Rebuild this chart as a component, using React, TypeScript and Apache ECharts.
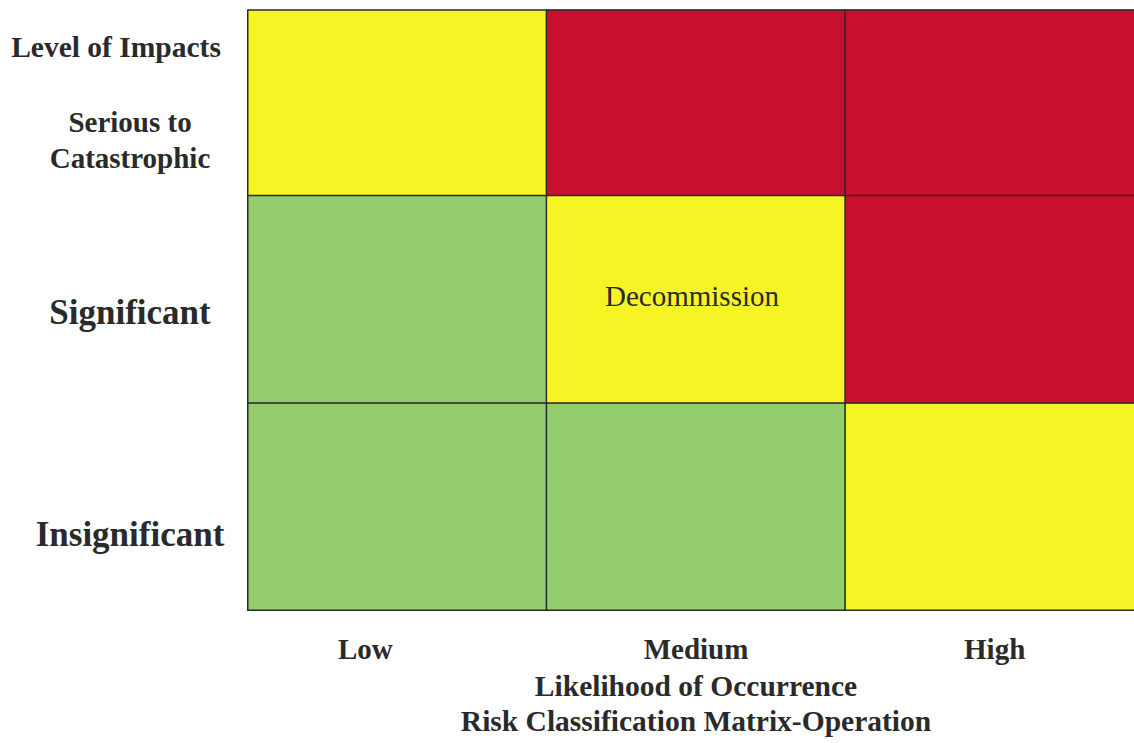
import React, { useEffect, useRef } from "react";
import * as echarts from "echarts";

// Categories
const likelihoodLevels = ["Low", "Medium", "High"];
const impactLevels = ["Insignificant", "Significant", "Serious to Catastrophic"];

// Risk class per cell: [likelihoodIndex, impactIndex, riskClass] (1 = low, 2 = medium, 3 = high)
const riskCells: [number, number, number][] = [
  [0, 0, 1], [1, 0, 1], [2, 0, 2],
  [0, 1, 1], [1, 1, 2], [2, 1, 3],
  [0, 2, 2], [1, 2, 3], [2, 2, 3],
];

// Notes written inside cells: [likelihoodIndex, impactIndex, text]
const cellNotes: [number, number, string][] = [[1, 1, "Decommission"]];

const yAxisHeader = "Level of Impacts";
const xAxisTitle = "Likelihood of Occurrence";
const chartTitle = "Risk Classification Matrix-Operation";

const riskColors = { 1: "#92cc6c", 2: "#f6f424", 3: "#c7102d" } as Record<number, string>;

const FONT = '"Liberation Serif", "Times New Roman", serif';
const TXT = "#2a2a2a";

// the chart canvas is larger than the page so the grid may run past its edges
const OFF_Y = 40;

export default function App() {
  const ref = useRef<HTMLDivElement>(null);

  useEffect(() => {
    if (!ref.current) return;
    const chart = echarts.init(ref.current, null, { renderer: "svg" });

    const data = riskCells.map(([x, y, v]) => {
      const note = cellNotes.find((n) => n[0] === x && n[1] === y);
      return { value: [x, y, v], name: note ? note[2] : "" };
    });

    chart.setOption({
      animation: false,
      backgroundColor: "#ffffff",
      grid: { left: 248, top: OFF_Y - 12, width: 896, bottom: 130, containLabel: false },
      visualMap: {
        type: "piecewise",
        show: false,
        dimension: 2,
        pieces: [
          { value: 1, color: riskColors[1] },
          { value: 2, color: riskColors[2] },
          { value: 3, color: riskColors[3] },
        ],
      },
      xAxis: {
        type: "category",
        data: likelihoodLevels,
        axisLine: { show: false },
        axisTick: { show: false },
        splitLine: { show: false },
        splitArea: { show: false },
        axisLabel: {
          margin: 24,
          fontFamily: FONT,
          fontWeight: "bold",
          fontSize: 29,
          color: TXT,
          formatter: (v: string) => (v === "Low" ? "{low|" + v + "}" : "{n|" + v + "}"),
          rich: {
            low: { fontFamily: FONT, fontWeight: "bold", fontSize: 29, color: TXT, padding: [0, 64, 0, 0] },
            n: { fontFamily: FONT, fontWeight: "bold", fontSize: 29, color: TXT },
          },
        },
        name: xAxisTitle + "\n" + chartTitle,
        nameLocation: "middle",
        nameGap: 58,
        nameTextStyle: {
          fontFamily: FONT,
          fontWeight: "bold",
          fontSize: 29.5,
          color: TXT,
          lineHeight: 35,
        },
      },
      yAxis: {
        type: "category",
        data: impactLevels,
        axisLine: { show: false },
        axisTick: { show: false },
        splitLine: { show: false },
        splitArea: { show: false },
        axisLabel: {
          margin: 118,
          align: "center",
          fontFamily: FONT,
          fontWeight: "bold",
          color: TXT,
          formatter: (v: string) => {
            if (v === "Insignificant") return "{ins|" + v + "}";
            if (v === "Significant") return "{sig|" + v + "}";
            return "{h|" + yAxisHeader + "}\n{s|Serious to}\n{s|Catastrophic}\n{e| }";
          },
          rich: {
            ins: { fontFamily: FONT, fontWeight: "bold", fontSize: 35, color: TXT, padding: [56, 0, 0, 0] },
            sig: { fontFamily: FONT, fontWeight: "bold", fontSize: 35, color: TXT, padding: [26, 0, 0, 0] },
            h: {
              fontFamily: FONT, fontWeight: "bold", fontSize: 29.5, color: TXT,
              lineHeight: 114, align: "left", padding: [0, 28, 0, 0],
            },
            s: { fontFamily: FONT, fontWeight: "bold", fontSize: 29, color: TXT, lineHeight: 36, align: "center" },
            e: { fontSize: 10, lineHeight: 18 },
          },
        },
      },
      series: [
        {
          type: "heatmap",
          data,
          itemStyle: { borderColor: "#2b2b2b", borderWidth: 1.5 },
          label: {
            show: true,
            formatter: (p: any) => p.name || "",
            fontFamily: FONT,
            fontSize: 29,
            color: TXT,
            offset: [-4, -3],
          },
          emphasis: { disabled: true },
        },
      ],
      graphic: [
        {
          type: "rect",
          z: 100,
          shape: { x: 240, y: 0, width: 960, height: OFF_Y + 9.5 },
          style: { fill: "#ffffff" },
        },
        {
          type: "line",
          z: 101,
          shape: { x1: 247.5, y1: OFF_Y + 10, x2: 1180, y2: OFF_Y + 10 },
          style: { stroke: "#2b2b2b", lineWidth: 1.5 },
        },
      ],
    });

    return () => chart.dispose();
  }, []);

  return (
    <div
      ref={ref}
      style={{ position: "fixed", left: 0, top: -OFF_Y, width: 1180, height: 743 + OFF_Y, background: "#fff" }}
    />
  );
}
